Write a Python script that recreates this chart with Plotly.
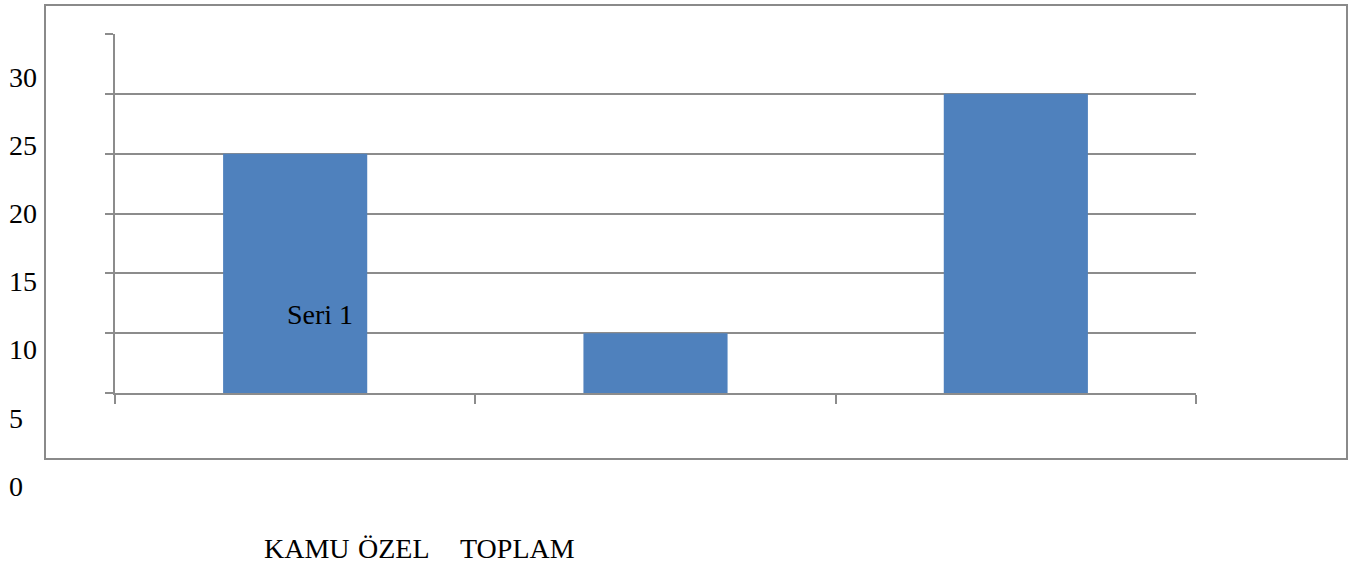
import plotly.graph_objects as go

# Data
categories = ["KAMU", "ÖZEL", "TOPLAM"]
values = [20, 5, 25]
series_name = "Seri 1"
tick_values = [0, 5, 10, 15, 20, 25, 30]
tick_labels = ["0", "5", "10", "15", "20", "25", "30"]

W, H = 1362, 569
ML, MR, MT, MB = 8, 8, 4, 60
PW = W - ML - MR
PH = H - MT - MB


def px_x(px):
    return (px - ML) / PW


def px_y(py):
    return (H - MB - py) / PH


GRID = "#8c8c8c"
BAR = "#4f81bd"
FONT = dict(family="Liberation Serif, Times New Roman, serif", size=28, color="#000000")

fig = go.Figure()
fig.add_trace(go.Bar(x=categories, y=values, name=series_name,
                     marker=dict(color=BAR, line=dict(width=0)), hoverinfo="x+y"))
# carrier trace for the free-standing value-label axis
fig.add_trace(go.Scatter(x=[0] * len(tick_values), y=tick_values, xaxis="x2", yaxis="y2",
                         mode="markers", marker=dict(opacity=0), hoverinfo="skip", showlegend=False))

fig.update_layout(
    width=W, height=H,
    margin=dict(l=ML, r=MR, t=MT, b=MB, autoexpand=False),
    paper_bgcolor="white", plot_bgcolor="rgba(0,0,0,0)",
    showlegend=False,
    bargap=0.6,
    font=FONT,
    xaxis=dict(
        domain=[px_x(115), px_x(1196)],
        type="category",
        showticklabels=False,
        showline=True, linecolor=GRID, linewidth=2,
        ticks="outside", tickson="boundaries", ticklen=9, tickcolor=GRID, tickwidth=2,
        showgrid=False, zeroline=False,
    ),
    yaxis=dict(
        domain=[px_y(393), px_y(34)],
        range=[0, 30], autorange=False,
        tickvals=tick_values,
        showticklabels=False,
        showline=True, linecolor=GRID, linewidth=2,
        ticks="outside", ticklen=8, tickcolor=GRID, tickwidth=2,
        showgrid=True, gridcolor=GRID, gridwidth=2,
        zeroline=False,
    ),
    xaxis2=dict(
        anchor="y2", domain=[0, 0.005], range=[-1, 1], visible=False,
    ),
    yaxis2=dict(
        anchor="free", position=0, side="right",
        domain=[px_y(486), px_y(77)],
        range=[0, 30], autorange=False,
        tickvals=tick_values, ticktext=tick_labels,
        tickfont=FONT,
        showline=False, showgrid=False, zeroline=False, ticks="",
    ),
    shapes=[dict(type="rect", xref="paper", yref="paper",
                 x0=px_x(45), x1=px_x(1347), y0=px_y(459), y1=px_y(5),
                 line=dict(color="#8a8a8a", width=2), fillcolor="rgba(0,0,0,0)", layer="below")],
    annotations=[
        dict(text=series_name, xref="paper", yref="paper", x=px_x(285), y=px_y(314),
             xanchor="left", yanchor="middle", showarrow=False, font=FONT),
    ] + [
        dict(text=name, xref="paper", yref="paper", x=px_x(xp), y=px_y(548),
             xanchor="left", yanchor="middle", showarrow=False, font=FONT)
        for name, xp in zip(categories, [262, 356, 458])
    ],
)

fig.write_html("out.html")
